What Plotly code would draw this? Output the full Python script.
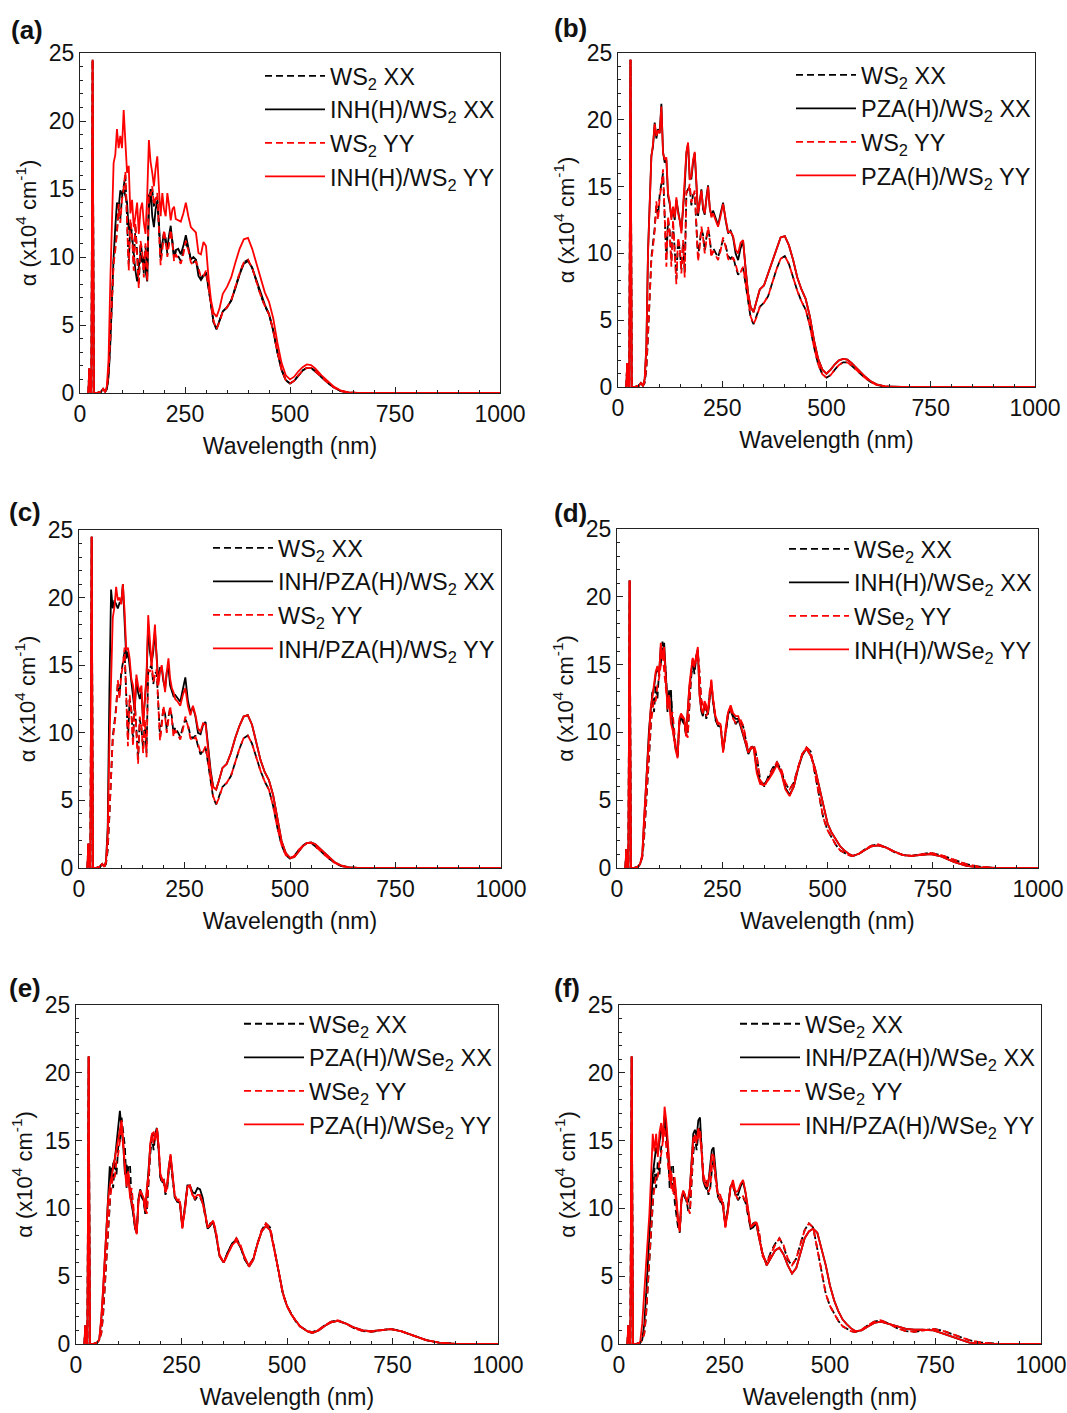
import plotly.graph_objects as go

# ---------------- data ----------------
WL = ([20, 22, 24, 27, 30, 33, 40, 50, 55]
      + list(range(60, 229, 4))
      + list(range(234, 319, 6))
      + [325, 332]
      + list(range(340, 561, 10))
      + [575, 590, 605, 620, 640, 660, 680, 700, 720, 745, 770, 800, 830, 860, 900, 1000])

WS2_HEAD = [0, 1.8, 0.2, 0, 24.5, 0, 0, 0.1, 0.3]
WS2_TAIL0 = [0, 0, 0, 0, 0, 0, 0, 0, 0, 0, 0]

WS2_YY = (WS2_HEAD
          + [0.1, 0.4, 1.5, 4.0, 7.5, 9.5, 10.5, 11.7, 13.9, 12.5, 14.2, 15.0, 16.3, 12.5, 9.0, 12.8, 11.5, 9.0, 12.5, 10.0,
             7.7, 11.2, 10.5, 8.5, 11.0, 8.2, 14.7, 14.5, 15.2, 13.8, 14.2, 14.7, 12.0, 9.4, 10.5, 12.0, 11.2, 10.0, 11.0, 12.0,
             11.0, 9.7, 10.2]
          + [9.8, 9.5, 10.2, 11.2, 10.5, 9.6, 9.4, 9.7, 9.2, 8.5, 8.6, 9.0, 7.8, 6.4, 5.3]
          + [4.7, 5.2]
          + [6.0, 6.3, 6.8, 7.8, 8.8, 9.6, 9.8, 9.2, 8.2, 7.2, 6.4, 5.8, 4.6, 3.0, 1.7, 0.95, 0.7, 0.9, 1.3, 1.65, 1.85, 1.85, 1.6]
          + [1.15, 0.75, 0.4, 0.15, 0.03] + WS2_TAIL0)

WS2_XX = (WS2_HEAD
          + [0.1, 0.3, 1.3, 3.8, 7.3, 9.7, 10.8, 11.9, 13.6, 12.8, 14.4, 15.2, 16.0, 12.8, 9.5, 12.5, 11.7, 9.4, 12.2, 10.3,
             8.1, 11.0, 10.3, 8.8, 10.8, 8.5, 14.5, 14.8, 15.0, 13.6, 14.4, 14.5, 12.2, 9.7, 10.8, 11.8, 11.4, 10.2, 11.2, 11.8,
             11.2, 9.9, 10.4]
          + [10.0, 9.7, 10.4, 11.0, 10.6, 9.8, 9.6, 9.8, 9.0, 8.4, 8.7, 8.9, 7.7, 6.3, 5.2]
          + [4.7, 5.3]
          + [6.0, 6.3, 6.8, 7.8, 8.8, 9.6, 9.8, 9.2, 8.2, 7.2, 6.4, 5.8, 4.6, 3.0, 1.7, 0.95, 0.7, 0.9, 1.3, 1.65, 1.85, 1.85, 1.6]
          + [1.15, 0.75, 0.4, 0.15, 0.03] + WS2_TAIL0)

INH_WS2_XX = (WS2_HEAD
              + [0.1, 0.3, 1.2, 3.5, 7.0, 10.0, 12.2, 14.0, 13.6, 14.9, 14.6, 15.0, 14.5, 14.0, 12.0, 12.5, 11.5, 10.0, 9.0, 8.2,
                 9.5, 10.3, 9.6, 10.0, 9.0, 8.2, 13.5, 15.0, 13.0, 12.2, 13.5, 14.1, 12.5, 10.0, 11.0, 11.8, 11.0, 10.7, 11.6, 12.3,
                 11.0, 10.0, 10.5]
              + [10.6, 10.2, 10.8, 11.6, 10.8, 9.8, 10.0, 9.8, 8.6, 8.3, 8.6, 8.8, 7.8, 6.3, 5.2]
              + [4.7, 5.3]
              + [6.0, 6.3, 6.8, 7.7, 8.7, 9.5, 9.7, 9.2, 8.3, 7.3, 6.5, 5.8, 4.6, 3.0, 1.7, 0.95, 0.7, 0.9, 1.3, 1.65, 1.85, 1.85, 1.6]
              + [1.15, 0.75, 0.4, 0.15, 0.03] + WS2_TAIL0)

INH_WS2_YY = (WS2_HEAD
              + [0.1, 0.5, 2.5, 8.0, 12.2, 16.9, 17.5, 19.4, 18.0, 18.9, 18.0, 20.8, 18.5, 16.2, 16.7, 13.2, 14.2, 12.2, 13.0, 14.0,
                 11.7, 13.5, 14.0, 12.5, 11.7, 14.5, 18.6, 17.0, 16.2, 15.2, 16.5, 17.4, 15.0, 13.0, 14.7, 13.5, 13.0, 14.7, 13.8, 12.7,
                 13.5, 13.7, 12.8]
              + [12.7, 12.6, 13.2, 14.0, 13.0, 12.2, 12.0, 11.8, 10.3, 10.2, 11.1, 10.8, 8.5, 6.8, 5.9]
              + [5.6, 6.2]
              + [7.3, 7.8, 8.5, 9.6, 10.6, 11.3, 11.4, 10.6, 9.5, 8.3, 7.4, 6.7, 5.5, 3.7, 2.2, 1.3, 1.0, 1.2, 1.6, 1.9, 2.1, 2.05, 1.8]
              + [1.3, 0.85, 0.45, 0.2, 0.05] + WS2_TAIL0)

PZA_WS2_YY = (WS2_HEAD
              + [0.1, 0.6, 3.0, 10.0, 14.5, 17.2, 18.2, 19.7, 18.8, 19.2, 19.0, 21.0, 17.5, 17.0, 17.2, 14.5, 13.9, 12.5, 13.5, 12.7,
                 14.2, 13.0, 12.5, 11.5, 13.5, 15.2, 17.6, 18.3, 15.5, 15.8, 17.0, 17.6, 15.0, 13.0, 13.8, 14.7, 13.5, 13.0, 14.0, 15.0,
                 13.5, 12.7, 13.0]
              + [12.5, 12.0, 12.8, 13.7, 12.6, 11.6, 11.6, 11.3, 10.3, 10.0, 10.8, 11.0, 8.8, 7.0, 6.0]
              + [5.6, 6.4]
              + [7.3, 7.6, 8.5, 9.5, 10.4, 11.2, 11.3, 10.6, 9.5, 8.2, 7.3, 6.6, 5.3, 3.5, 2.1, 1.3, 1.0, 1.3, 1.7, 2.0, 2.1, 2.05, 1.8]
              + [1.3, 0.85, 0.45, 0.2, 0.05] + WS2_TAIL0)

PZA_WS2_XX = (WS2_HEAD
              + [0.1, 0.6, 3.0, 10.2, 14.7, 17.3, 18.0, 19.8, 18.6, 19.3, 19.0, 21.2, 17.6, 16.8, 17.0, 14.3, 13.7, 12.7, 13.3, 12.5,
                 14.0, 13.2, 12.3, 11.7, 13.3, 15.0, 17.5, 18.2, 15.6, 15.6, 16.8, 17.5, 15.2, 12.8, 13.9, 14.8, 13.3, 12.9, 14.2, 15.1,
                 13.4, 12.8, 13.2]
              + [12.6, 12.1, 13.0, 13.8, 12.5, 11.5, 11.7, 11.2, 10.0, 9.5, 10.4, 10.9, 8.9, 7.0, 6.0]
              + [5.6, 6.4]
              + [7.3, 7.6, 8.5, 9.5, 10.4, 11.2, 11.3, 10.6, 9.5, 8.2, 7.3, 6.6, 5.3, 3.5, 2.1, 1.3, 1.0, 1.3, 1.7, 2.0, 2.1, 2.05, 1.8]
              + [1.3, 0.85, 0.45, 0.2, 0.05] + WS2_TAIL0)

IP_WS2_YY = (WS2_HEAD
             + [0.1, 0.5, 2.5, 9.0, 15.0, 18.5, 19.3, 20.8, 19.8, 20.0, 19.5, 21.0, 19.0, 16.1, 16.3, 15.5, 14.0, 13.5, 11.8, 14.3,
                13.5, 13.0, 13.5, 10.5, 12.5, 14.3, 18.7, 16.5, 15.0, 16.5, 18.0, 15.5, 13.5, 14.5, 15.0, 14.0, 13.0, 14.5, 15.5, 14.0,
                13.3, 13.0, 12.5]
             + [12.3, 12.0, 12.8, 13.3, 12.0, 11.3, 12.0, 11.3, 10.3, 10.1, 10.7, 10.6, 8.8, 7.0, 6.0]
             + [5.8, 6.5]
             + [7.4, 7.7, 8.5, 9.6, 10.5, 11.2, 11.3, 10.6, 9.3, 8.0, 7.1, 6.5, 5.4, 3.7, 2.0, 1.1, 0.75, 0.8, 1.2, 1.6, 1.85, 1.9, 1.75]
             + [1.3, 0.85, 0.45, 0.2, 0.05] + WS2_TAIL0)

IP_WS2_XX = (WS2_HEAD
             + [0.1, 0.5, 3.0, 13.0, 20.6, 19.2, 19.8, 19.5, 19.2, 19.6, 19.6, 21.0, 18.5, 15.5, 16.0, 15.0, 13.8, 13.0, 11.6, 14.0,
                13.0, 12.5, 13.0, 10.8, 12.2, 14.0, 18.0, 16.0, 15.2, 16.0, 17.5, 15.2, 13.8, 14.8, 14.8, 13.8, 13.3, 14.5, 14.8, 13.5,
                13.0, 12.7, 12.8]
             + [12.5, 12.3, 13.2, 14.1, 12.4, 11.5, 11.9, 11.2, 10.0, 9.9, 10.6, 10.8, 9.0, 7.2, 6.0]
             + [5.8, 6.5]
             + [7.4, 7.7, 8.5, 9.6, 10.5, 11.2, 11.3, 10.6, 9.3, 8.0, 7.1, 6.5, 5.4, 3.7, 2.0, 1.1, 0.75, 0.8, 1.2, 1.6, 1.85, 1.9, 1.75]
             + [1.3, 0.85, 0.45, 0.2, 0.05] + WS2_TAIL0)

WSE2_HEAD = [0, 1.4, 0.2, 0, 21.2, 0, 0, 0.1, 0.3]

WSE2_YY = (WSE2_HEAD
           + [0.8, 2.2, 4.3, 6.8, 9.0, 10.5, 11.5, 12.5, 12.3, 13.5, 14.0, 15.2, 16.0, 14.5, 13.0, 12.0, 12.8, 11.0, 11.5, 10.0,
              8.8, 8.3, 10.5, 11.3, 11.0, 10.8, 10.0, 9.6, 12.0, 14.5, 15.5, 14.8, 15.3, 15.8, 14.5, 12.5, 12.0, 12.2, 11.2, 11.5,
              13.0, 13.8, 12.5]
           + [11.0, 10.6, 10.7, 8.6, 9.8, 11.6, 11.7, 11.0, 10.7, 10.8, 10.9, 10.5, 9.5, 8.6, 8.8]
           + [9.1, 8.3]
           + [6.5, 6.0, 6.7, 7.3, 7.8, 7.3, 6.3, 5.8, 6.3, 7.4, 8.4, 8.9, 8.6, 7.0, 5.2, 3.7, 2.8, 2.2, 1.7, 1.3, 1.1, 0.95, 0.88]
           + [1.05, 1.4, 1.65, 1.75, 1.5, 1.15, 0.95, 0.9, 0.98, 1.12, 0.95, 0.6, 0.28, 0.1, 0.01, 0])

WSE2_XX = (WSE2_HEAD
           + [0.8, 2.0, 4.0, 6.5, 8.8, 10.2, 13.0, 11.5, 13.5, 12.5, 14.5, 15.0, 16.7, 15.5, 14.5, 11.5, 13.2, 13.2, 10.5, 9.5,
              8.6, 8.2, 10.6, 11.2, 10.8, 10.6, 9.8, 9.8, 12.0, 14.0, 15.2, 14.3, 15.5, 16.0, 14.3, 12.3, 11.8, 12.0, 11.0, 11.4,
              12.8, 13.6, 12.4]
           + [10.9, 10.5, 10.6, 8.7, 9.9, 11.5, 11.6, 11.1, 10.6, 10.9, 10.8, 10.4, 9.4, 8.5, 8.9]
           + [9.0, 8.2]
           + [6.5, 6.0, 6.8, 7.4, 7.8, 7.2, 6.2, 5.8, 6.3, 7.4, 8.4, 8.9, 8.6, 7.0, 5.2, 3.7, 2.8, 2.2, 1.7, 1.3, 1.1, 0.95, 0.88]
           + [1.05, 1.4, 1.65, 1.75, 1.5, 1.15, 0.95, 0.9, 0.98, 1.12, 0.95, 0.6, 0.28, 0.1, 0.01, 0])

INH_WSE2_YY = (WSE2_HEAD
               + [1.0, 3.5, 5.8, 7.8, 10.5, 11.8, 12.6, 13.5, 14.5, 14.9, 14.2, 16.6, 15.5, 16.3, 13.9, 11.7, 12.5, 10.7, 10.2, 9.2,
                  8.6, 8.1, 11.0, 11.4, 11.2, 11.0, 9.7, 12.0, 13.5, 14.6, 15.5, 14.9, 15.8, 16.3, 12.7, 11.8, 11.4, 12.3, 12.0, 11.5,
                  12.5, 13.9, 12.5]
               + [11.2, 10.7, 10.6, 8.5, 10.3, 11.5, 12.0, 11.4, 11.2, 11.2, 10.5, 9.9, 9.2, 8.5, 8.9]
               + [8.8, 7.0]
               + [6.2, 6.1, 6.5, 7.0, 7.6, 7.0, 5.8, 5.3, 6.0, 7.4, 8.4, 8.8, 8.3, 7.4, 6.0, 4.5, 3.3, 2.6, 2.1, 1.6, 1.3, 1.05, 0.9]
               + [1.05, 1.35, 1.6, 1.67, 1.5, 1.2, 0.95, 0.9, 0.95, 1.03, 0.85, 0.45, 0.15, 0.05, 0, 0])

INH_WSE2_XX = (WSE2_HEAD
               + [0.9, 3.2, 5.6, 7.6, 10.2, 11.6, 12.8, 13.3, 14.3, 14.7, 14.4, 16.3, 15.8, 16.6, 14.2, 12.0, 12.8, 13.0, 10.4, 9.5,
                  8.8, 8.3, 10.8, 11.2, 11.0, 10.8, 9.9, 11.7, 13.3, 14.3, 15.3, 14.6, 15.6, 16.1, 12.9, 11.6, 11.2, 12.1, 11.8, 11.3,
                  12.3, 13.6, 12.3]
               + [11.0, 10.5, 10.4, 8.7, 10.1, 11.3, 11.8, 11.2, 11.0, 11.0, 10.4, 9.8, 9.1, 8.4, 8.8]
               + [8.9, 7.2]
               + [6.3, 6.2, 6.6, 7.1, 7.7, 7.1, 5.9, 5.4, 6.0, 7.3, 8.3, 8.8, 8.3, 7.4, 6.0, 4.5, 3.3, 2.6, 2.1, 1.6, 1.3, 1.05, 0.9]
               + [1.05, 1.35, 1.6, 1.67, 1.5, 1.2, 0.95, 0.9, 0.95, 1.03, 0.85, 0.45, 0.15, 0.05, 0, 0])

PZA_WSE2_YY = (WSE2_HEAD
               + [2.0, 4.0, 6.2, 8.5, 10.6, 11.6, 12.3, 13.1, 13.8, 14.5, 15.3, 16.0, 16.5, 15.0, 12.8, 11.6, 12.6, 10.8, 10.4, 9.8,
                  8.6, 8.1, 10.5, 11.3, 11.1, 10.8, 9.8, 11.6, 12.5, 14.8, 15.5, 15.6, 15.0, 15.9, 14.5, 12.5, 12.2, 12.0, 11.2, 11.8,
                  13.0, 14.0, 12.8]
               + [10.9, 10.6, 10.5, 8.5, 10.2, 11.6, 11.6, 11.0, 10.8, 11.0, 11.0, 10.4, 9.6, 8.6, 8.8]
               + [9.1, 8.1]
               + [6.6, 6.0, 6.7, 7.3, 7.6, 7.2, 6.4, 5.7, 6.2, 7.4, 8.3, 8.7, 8.4, 7.0, 5.4, 3.8, 2.8, 2.2, 1.75, 1.35, 1.1, 0.9, 0.8]
               + [1.0, 1.35, 1.6, 1.7, 1.5, 1.2, 1.0, 0.95, 1.0, 1.1, 0.95, 0.6, 0.28, 0.1, 0.01, 0])

PZA_WSE2_XX = (WSE2_HEAD
               + [1.8, 3.8, 6.0, 8.3, 10.4, 13.1, 12.0, 13.3, 13.6, 14.8, 16.3, 17.2, 15.8, 14.6, 12.5, 13.2, 12.4, 11.0, 10.2, 9.6,
                  8.5, 8.2, 10.7, 11.4, 11.0, 10.7, 9.6, 11.4, 12.7, 14.6, 15.3, 15.5, 15.2, 15.8, 14.2, 12.3, 12.0, 12.1, 11.4, 11.6,
                  13.1, 13.9, 12.7]
               + [10.8, 10.5, 10.4, 8.6, 10.3, 11.7, 11.7, 11.2, 11.1, 11.5, 11.4, 10.8, 9.7, 8.5, 8.7]
               + [9.0, 8.0]
               + [6.5, 6.0, 6.8, 7.4, 7.7, 7.1, 6.3, 5.7, 6.2, 7.4, 8.3, 8.7, 8.4, 7.0, 5.4, 3.8, 2.8, 2.2, 1.75, 1.35, 1.1, 0.9, 0.8]
               + [1.0, 1.35, 1.6, 1.7, 1.5, 1.2, 1.0, 0.95, 1.0, 1.1, 0.95, 0.6, 0.28, 0.1, 0.01, 0])

IP_WSE2_YY = (WSE2_HEAD[:-1] + [1.5]
              + [4.0, 5.8, 7.5, 9.6, 12.4, 15.5, 14.2, 15.5, 13.8, 15.6, 16.3, 15.0, 17.5, 16.5, 14.8, 12.8, 11.5, 11.5, 12.3, 10.8,
                 9.2, 8.4, 10.8, 11.3, 11.0, 10.6, 10.8, 11.5, 13.3, 15.2, 15.3, 15.0, 15.9, 15.3, 14.0, 12.1, 11.8, 11.6, 12.0, 12.8,
                 14.0, 13.9, 12.6]
              + [11.1, 11.0, 10.3, 8.6, 9.8, 11.5, 12.1, 11.2, 11.3, 11.8, 12.1, 11.2, 10.0, 8.7, 8.8]
              + [9.0, 7.8]
              + [6.7, 5.8, 6.4, 6.9, 7.1, 6.6, 5.8, 5.2, 5.6, 6.8, 7.8, 8.3, 8.5, 8.2, 7.0, 5.8, 4.3, 3.2, 2.4, 1.8, 1.45, 1.15, 0.95]
              + [1.0, 1.3, 1.55, 1.65, 1.5, 1.3, 1.12, 1.05, 1.05, 1.0, 0.75, 0.4, 0.1, 0.01, 0, 0])

IP_WSE2_XX = (WSE2_HEAD
              + [1.5, 3.5, 6.0, 8.3, 10.5, 12.5, 13.5, 14.5, 14.0, 15.0, 15.8, 15.5, 16.8, 16.0, 14.5, 12.5, 11.8, 11.8, 12.0, 10.5,
                 9.0, 8.5, 10.6, 11.2, 11.0, 10.5, 10.5, 11.5, 13.5, 15.5, 15.8, 15.3, 16.5, 16.7, 14.2, 12.0, 11.6, 11.4, 12.0, 13.0,
                 14.3, 14.5, 12.8]
              + [11.0, 10.6, 10.2, 8.8, 10.0, 11.6, 11.9, 11.0, 11.0, 11.6, 12.0, 11.1, 9.8, 8.5, 8.6]
              + [8.9, 7.8]
              + [6.7, 5.8, 6.4, 6.9, 7.1, 6.6, 5.8, 5.2, 5.6, 6.8, 7.8, 8.3, 8.5, 8.2, 7.0, 5.8, 4.3, 3.2, 2.4, 1.8, 1.45, 1.15, 0.95]
              + [1.0, 1.3, 1.55, 1.65, 1.5, 1.3, 1.12, 1.05, 1.05, 1.0, 0.75, 0.4, 0.1, 0.01, 0, 0])

X_TICKS = [0, 250, 500, 750, 1000]
Y_TICKS = [0, 5, 10, 15, 20, 25]

PANEL_LABELS = ["(a)", "(b)", "(c)", "(d)", "(e)", "(f)"]
LEGEND_NAMES = [
    ["WS<sub>2</sub> XX", "INH(H)/WS<sub>2</sub> XX", "WS<sub>2</sub> YY", "INH(H)/WS<sub>2</sub> YY"],
    ["WS<sub>2</sub> XX", "PZA(H)/WS<sub>2</sub> XX", "WS<sub>2</sub> YY", "PZA(H)/WS<sub>2</sub> YY"],
    ["WS<sub>2</sub> XX", "INH/PZA(H)/WS<sub>2</sub> XX", "WS<sub>2</sub> YY", "INH/PZA(H)/WS<sub>2</sub> YY"],
    ["WSe<sub>2</sub> XX", "INH(H)/WSe<sub>2</sub> XX", "WSe<sub>2</sub> YY", "INH(H)/WSe<sub>2</sub> YY"],
    ["WSe<sub>2</sub> XX", "PZA(H)/WSe<sub>2</sub> XX", "WSe<sub>2</sub> YY", "PZA(H)/WSe<sub>2</sub> YY"],
    ["WSe<sub>2</sub> XX", "INH/PZA(H)/WSe<sub>2</sub> XX", "WSe<sub>2</sub> YY", "INH/PZA(H)/WSe<sub>2</sub> YY"],
]
PANEL_SERIES = [
    [WS2_XX, INH_WS2_XX, WS2_YY, INH_WS2_YY],
    [WS2_XX, PZA_WS2_XX, WS2_YY, PZA_WS2_YY],
    [WS2_XX, IP_WS2_XX, WS2_YY, IP_WS2_YY],
    [WSE2_XX, INH_WSE2_XX, WSE2_YY, INH_WSE2_YY],
    [WSE2_XX, PZA_WSE2_XX, WSE2_YY, PZA_WSE2_YY],
    [WSE2_XX, IP_WSE2_XX, WSE2_YY, IP_WSE2_YY],
]

# ---------------- layout (pixel geometry) ----------------
W, H = 1067, 1413
FONT = "Liberation Sans, Arial, Helvetica, sans-serif"
# plot areas: (left, right, top, bottom) in px
BOXES = [(80, 500, 53, 393), (618, 1035, 53, 387),
         (79, 501, 530, 868), (617, 1038, 529, 868),
         (76, 498, 1005, 1344), (619, 1041, 1005, 1344)]
# legend anchor: (line-sample left x, first entry centre y)
LEG = [(266, 75), (797, 74), (214, 547), (790, 548), (245, 1023), (741, 1023)]
LABEL_POS = [(9, 30), (552, 28), (7, 512), (552, 513), (7, 988), (552, 988)]
STYLE = [("#000000", "7px,4px"), ("#000000", "solid"), ("#ff0000", "7px,4px"), ("#ff0000", "solid")]

fig = go.Figure()
layout = dict(width=W, height=H, margin=dict(l=0, r=0, t=0, b=0), autosize=False,
              paper_bgcolor="white", plot_bgcolor="white",
              font=dict(family=FONT, size=22, color="#111"), annotations=[])

for i in range(6):
    k = "" if i == 0 else str(i + 1)
    l, r, t, b = BOXES[i]
    layout["xaxis" + k] = dict(
        domain=[l / W, r / W], anchor="y" + k, range=[0, 1000], tickvals=X_TICKS,
        ticks="inside", ticklen=6, tickwidth=1.2, tickcolor="#222",
        minor=dict(ticks="inside", ticklen=3, dtick=50, tickwidth=1, tickcolor="#222", showgrid=False),
        showline=True, linecolor="#222", linewidth=1.2, mirror=True, showgrid=False, zeroline=False,
        tickfont=dict(size=23, family=FONT, color="#111"),
        title=dict(text="Wavelength (nm)", font=dict(size=23, family=FONT, color="#111"), standoff=12),
        automargin=False)
    layout["yaxis" + k] = dict(
        domain=[1 - b / H, 1 - t / H], anchor="x" + k, range=[0, 25], tickvals=Y_TICKS,
        ticks="inside", ticklen=6, tickwidth=1.2, tickcolor="#222",
        minor=dict(ticks="inside", ticklen=3, dtick=1, tickwidth=1, tickcolor="#222", showgrid=False),
        showline=True, linecolor="#222", linewidth=1.2, mirror=True, showgrid=False, zeroline=False,
        tickfont=dict(size=23, family=FONT, color="#111"),
        title=dict(text="α (x10<sup>4</sup> cm<sup>-1</sup>)", font=dict(size=22, family=FONT, color="#111"), standoff=6),
        automargin=False)
    lx, ly = LEG[i]
    layout["legend" + k] = dict(
        x=(lx - 6) / W, y=1 - (ly - 21) / H, xanchor="left", yanchor="top",
        bgcolor="rgba(0,0,0,0)", borderwidth=0, font=dict(size=23.5, family=FONT, color="#111"),
        tracegroupgap=0, itemwidth=60)
    px, py = LABEL_POS[i]
    layout["annotations"].append(dict(
        text="<b>" + PANEL_LABELS[i] + "</b>", x=px / W, y=1 - py / H, xref="paper", yref="paper",
        xanchor="left", yanchor="middle", showarrow=False, font=dict(size=26, family=FONT, color="#111")))

    for j in range(4):
        col, dash = STYLE[j]
        fig.add_trace(go.Scatter(
            x=WL, y=PANEL_SERIES[i][j], mode="lines", name=LEGEND_NAMES[i][j],
            line=dict(color=col, width=1.8, dash=dash),
            xaxis="x" + k, yaxis="y" + k, legend="legend" + k,
            legendgroup="p%d_%d" % (i, j), showlegend=True))

fig.update_layout(**layout)
fig.write_html("out.html", config={"displayModeBar": False},
               post_script="document.body.style.margin='0';")
